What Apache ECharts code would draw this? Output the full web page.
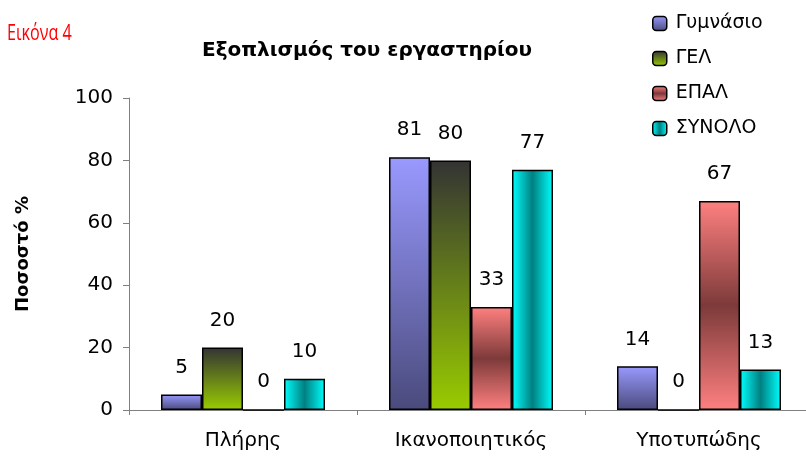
<!DOCTYPE html>
<html><head><meta charset="utf-8">
<script src="https://cdn.jsdelivr.net/npm/echarts@6/dist/echarts.min.js"></script>
<style>html,body{margin:0;padding:0;background:#fff;overflow:hidden;width:806px;height:457px}#c{width:830px;height:457px}</style>
</head><body><div id="c"></div>
<script>
const categories = ['Πλήρης', 'Ικανοποιητικός', 'Υποτυπώδης'];
const seriesNames = ['Γυμνάσιο', 'ΓΕΛ', 'ΕΠΑΛ', 'ΣΥΝΟΛΟ'];
const gymnasio = [5, 81, 14];
const gel = [20, 80, 0];
const epal = [0, 33, 67];
const synolo = [10, 77, 13];
const yTicks = [0, 20, 40, 60, 80, 100];

const G = echarts.graphic.LinearGradient;
const fills = [
  new G(0,0,0,1,[{offset:0,color:'#9999ff'},{offset:1,color:'#4a4a7c'}]),
  new G(0,0,0,1,[{offset:0,color:'#333333'},{offset:1,color:'#99cc00'}]),
  new G(0,0,0,1,[{offset:0,color:'#ff8080'},{offset:0.5,color:'#7d3a3a'},{offset:1,color:'#ff8080'}]),
  new G(0,0,1,0,[{offset:0,color:'#00ffff'},{offset:0.5,color:'#008080'},{offset:1,color:'#00ffff'}])
];
const data = [gymnasio, gel, epal, synolo];
const font = 'DejaVu Sans, Liberation Sans, sans-serif';

const chart = echarts.init(document.getElementById('c'));
chart.setOption({
  animation: false,
  textStyle: {fontFamily: font},
  title: [
    {text: 'Εξοπλισμός του εργαστηρίου', left: 362, textAlign: 'center', top: 36, textStyle: {color: '#000', fontSize: 20, fontWeight: 'bold', fontFamily: font}}
  ],
  graphic: [
    {type: 'text', x: 7, y: 24, scaleX: 0.77, scaleY: 1,
     style: {text: 'Εικόνα 4', fill: '#ff0000', font: 'normal 21px "Open Sans", sans-serif'}}
  ],
  legend: {
    orient: 'vertical', left: 647, top: 9, itemWidth: 14, itemHeight: 14, itemGap: 16,
    data: seriesNames,
    textStyle: {fontSize: 19, color: '#000', fontFamily: font, padding: [0,0,0,4]},
    itemStyle: {borderColor: '#000', borderWidth: 1.5}
  },
  grid: {left: 129, top: 98, width: 684, height: 312},
  xAxis: {
    type: 'category', data: categories,
    axisLine: {lineStyle: {color: '#808080', width: 1}},
    axisTick: {show: true, length: 5, lineStyle: {color: '#808080'}},
    axisLabel: {fontSize: 20, color: '#000', margin: 21, fontFamily: font}
  },
  yAxis: {
    type: 'value', min: 0, max: 100, interval: 20,
    name: 'Ποσοστό %', nameLocation: 'middle', nameGap: 97, nameRotate: 90,
    nameTextStyle: {fontSize: 18, fontWeight: 'bold', color: '#000', fontFamily: font},
    axisLine: {show: true, lineStyle: {color: '#808080', width: 1}},
    axisTick: {show: true, length: 6, lineStyle: {color: '#808080'}},
    splitLine: {show: false},
    axisLabel: {fontSize: 20, color: '#000', margin: 16, fontFamily: font,
      formatter: v => yTicks.includes(v) ? String(v) : ''}
  },
  series: seriesNames.map((n, i) => ({
    name: n, type: 'bar', data: data[i], barWidth: 41, barGap: '0%',
    itemStyle: {color: fills[i], borderColor: '#000', borderWidth: 1.5},
    label: {show: true, position: 'top', distance: 17, fontSize: 20, color: '#000', fontFamily: font}
  }))
});
</script></body></html>
